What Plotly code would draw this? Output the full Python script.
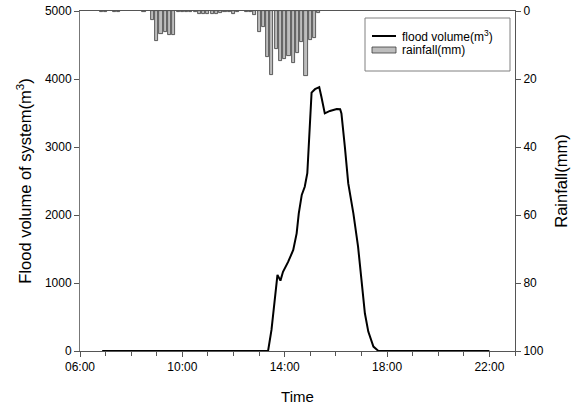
import plotly.graph_objects as go

# ---- data ----
flood_times = ["06:52", "13:21", "13:29", "13:41", "13:43", "13:50", "13:56", "14:08", "14:20",
               "14:28", "14:33", "14:40", "14:47", "14:53", "14:56", "14:59", "15:03", "15:11",
               "15:21", "15:26", "15:34", "15:46", "16:02", "16:10", "16:13", "16:21", "16:29",
               "16:41", "16:52", "17:00", "17:08", "17:16", "17:28", "17:39", "17:51", "22:00"]
flood_volume = [0, 0, 310, 1040, 1120, 1035, 1165, 1310, 1485,
                1730, 2025, 2295, 2415, 2615, 3005, 3495, 3800, 3850,
                3880, 3740, 3495, 3530, 3560, 3555, 3495, 3005, 2465,
                2025, 1535, 1045, 555, 285, 65, 5, 0, 0]

rain_times = ["06:50", "07:00", "07:20", "07:30", "08:30", "08:50", "09:00", "09:10", "09:20",
              "09:30", "09:40", "09:50", "10:00", "10:10", "10:20", "10:30", "10:40", "10:50",
              "11:00", "11:10", "11:20", "11:30", "11:40", "11:50", "12:00", "12:10", "12:30",
              "12:40", "12:50", "13:00", "13:10", "13:20", "13:30", "13:40", "13:50", "14:00",
              "14:10", "14:20", "14:30", "14:40", "14:50", "15:00", "15:10", "15:20"]
rain_mm = [0.4, 0.4, 0.4, 0.4, 0.4, 2.6, 8.8, 6.8, 6.2,
           7.1, 7.1, 0.4, 0.4, 0.4, 0.4, 0.4, 0.9, 0.9,
           0.9, 0.9, 0.9, 0.6, 0.4, 0.4, 0.9, 0.4, 0.4,
           0.4, 1.2, 6.2, 4.7, 13.5, 18.8, 11.2, 14.7, 14.1,
           13.2, 15.3, 12.4, 9.1, 19.1, 8.5, 7.9, 0.6]

x_ticks = ["06:00", "10:00", "14:00", "18:00", "22:00"]
legend_labels = ["flood volume(m<sup>3</sup>)", "rainfall(mm)"]
day = "2000-01-01 "


def d(t):
    return day + t


BAR_FILL = "#bdbdbd"
BAR_EDGE = "#3a3a3a"

fig = go.Figure()
fig.add_trace(go.Bar(
    x=[d(t) for t in rain_times], y=rain_mm, yaxis="y2", name=legend_labels[1],
    width=0.12 * 3600000, showlegend=False,
    marker=dict(color=BAR_FILL, line=dict(color=BAR_EDGE, width=0.8)),
))
fig.add_trace(go.Scatter(
    x=[d(t) for t in flood_times], y=flood_volume, mode="lines", name=legend_labels[0],
    line=dict(color="black", width=2), showlegend=False,
))

# plot area in pixels: x 80..515, y 11..351
L, R, T, B = 80, 515, 11, 351


def px(x):
    return (x - L) / (R - L)


def py(y):
    return (B - y) / (B - T)


# manual legend (box, line sample, bar sample, texts)
shapes = [
    dict(type="rect", xref="paper", yref="paper", x0=px(365), x1=px(510), y0=py(71), y1=py(18),
         line=dict(color="#808080", width=1), fillcolor="white", layer="above"),
    dict(type="line", xref="paper", yref="paper", x0=px(372), x1=px(396), y0=py(36), y1=py(36),
         line=dict(color="black", width=2), layer="above"),
    dict(type="rect", xref="paper", yref="paper", x0=px(372), x1=px(396), y0=py(53), y1=py(47),
         line=dict(color=BAR_EDGE, width=0.8), fillcolor=BAR_FILL, layer="above"),
]
annotations = [
    dict(text=legend_labels[0], xref="paper", yref="paper", x=px(400), y=py(36),
         xanchor="left", yanchor="middle", showarrow=False, font=dict(size=12)),
    dict(text=legend_labels[1], xref="paper", yref="paper", x=px(400), y=py(50),
         xanchor="left", yanchor="middle", showarrow=False, font=dict(size=12)),
]

font = "Liberation Sans, Arial, sans-serif"
fig.update_layout(
    width=575, height=409,
    margin=dict(l=L, r=575 - R, t=T, b=409 - B),
    plot_bgcolor="white", paper_bgcolor="white",
    font=dict(family=font, size=12, color="black"),
    showlegend=False,
    bargap=0,
    shapes=shapes,
    annotations=annotations,
    xaxis=dict(
        type="date", automargin=False,
        range=[d("06:00"), d("23:00")],
        tickmode="array", tickvals=[d(t) for t in x_ticks], ticktext=x_ticks,
        ticks="outside", ticklen=5, tickcolor="#555",
        minor=dict(dtick=3600000, tick0=d("06:00"), ticks="outside", ticklen=4, tickcolor="#555"),
        showline=True, linecolor="#555", linewidth=1, mirror=True,
        showgrid=False, zeroline=False,
        title=dict(text="Time", font=dict(size=15), standoff=18),
        tickfont=dict(size=12),
    ),
    yaxis=dict(
        range=[0, 5000], tickvals=[0, 1000, 2000, 3000, 4000, 5000], automargin=False,
        ticks="outside", ticklen=5, tickcolor="#555",
        showline=True, linecolor="#777", linewidth=1,
        showgrid=False, zeroline=False,
        title=dict(text="Flood volume of system(m<sup>3</sup>)", font=dict(size=16.5), standoff=9),
        tickfont=dict(size=12),
    ),
    yaxis2=dict(
        overlaying="y", side="right", range=[100, 0], automargin=False,
        tickvals=[0, 20, 40, 60, 80, 100],
        ticks="outside", ticklen=5, tickcolor="#555",
        showline=True, linecolor="#555", linewidth=1,
        showgrid=False, zeroline=False,
        title=dict(text="Rainfall(mm)", font=dict(size=16.5), standoff=12),
        tickfont=dict(size=12),
    ),
)

fig.write_html("out.html")
